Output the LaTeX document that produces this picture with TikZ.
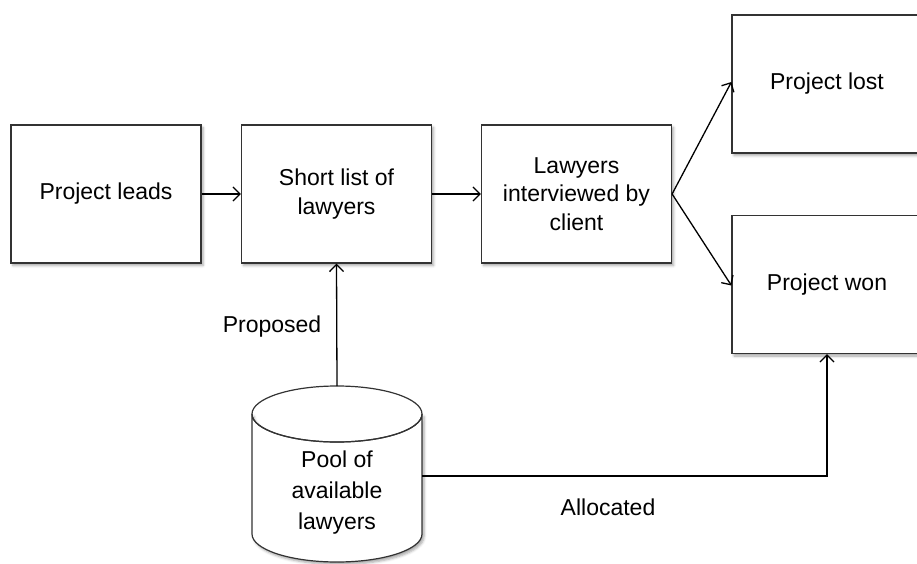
\documentclass[tikz,border=0pt]{standalone}
\usepackage{fontspec}
\setmainfont{Liberation Sans}
\usetikzlibrary{arrows.meta,shadows.blur}
\begin{document}
\begin{tikzpicture}[x=1pt,y=-1pt,
  every node/.style={font=\fontsize{23}{28.5}\selectfont, text=black},
  box/.style={draw=black!80, line width=1.2pt, fill=white, minimum width=190pt, minimum height=138pt, align=center, inner sep=2pt,
    blur shadow={shadow xshift=2pt, shadow yshift=-2.5pt, shadow blur radius=2.5pt, shadow opacity=35}},
  conn/.style={draw=black, line width=1.3pt, -{Straight Barb[length=7pt,width=14pt,line width=1.3pt]}},
  lbl/.style={inner sep=0pt}
]
\useasboundingbox (0,0) rectangle (917,564);
\node[box] (leads) at (106,194) {Project leads};
\node[box] (short) at (336.5,194) {Short list of\\lawyers};
\node[box] (interview) at (576.5,194) {Lawyers\\interviewed by\\client};
\node[box] (lost) at (827,84) {Project lost};
\node[box] (won) at (827,284.5) {Project won};
% cylinder
\path[draw=black!80, line width=1.2pt, fill=white,
  blur shadow={shadow xshift=2pt, shadow yshift=-2.5pt, shadow blur radius=2.5pt, shadow opacity=35}]
  (252,414) arc[start angle=180, end angle=360, x radius=85, y radius=-28]
  -- (422,534) arc[start angle=0, end angle=-180, x radius=85, y radius=-28] -- cycle;
\draw[black!80, line width=1.2pt] (252,414) arc[start angle=180, end angle=0, x radius=85, y radius=-28]
  arc[start angle=0, end angle=-180, x radius=85, y radius=-28];
\node[align=center, font=\fontsize{23}{31}\selectfont] (pool) at (337,493) {Pool of\\available\\lawyers};
\coordinate (pooltop) at (337,386);
\coordinate (poolright) at (422,476);
\coordinate (bend) at (827,476);
% connectors
\draw[conn] (leads.east) -- (short.west);
\draw[conn] (short.east) -- (interview.west);
\draw[conn] (interview.east) -- ([yshift=2pt]lost.west);
\draw[conn] (interview.east) -- ([yshift=-1pt]won.west);
\draw[conn] (pooltop) -- (short.south);
\draw[conn] (poolright) -- (bend) -- (won.south);
\node[lbl] (proposed) at (272,327) {Proposed};
\node[lbl] (allocated) at (608,507) {Allocated};
\end{tikzpicture}
\end{document}
